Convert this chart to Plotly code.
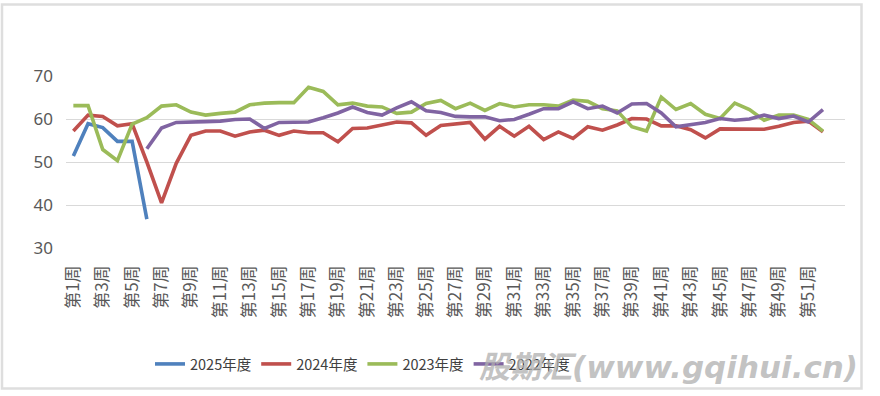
import plotly.graph_objects as go

weeks = ["第%d周" % i for i in range(1, 53)]
tick_weeks = weeks[::2]

v2025 = [51.4, 58.9, 58.0, 54.8, 54.8, 36.7]
v2024 = [57.2, 60.9, 60.6, 58.4, 58.9, 50.0, 40.5, 49.7, 56.2, 57.2,
         57.2, 56.0, 57.0, 57.4, 56.2, 57.2, 56.8, 56.8, 54.7, 57.8,
         57.9, 58.6, 59.3, 59.1, 56.2, 58.5, 58.9, 59.2, 55.3, 58.3,
         56.0, 58.3, 55.2, 57.0, 55.5, 58.2, 57.4, 58.6, 60.1, 60.0,
         58.4, 58.4, 57.5, 55.6, 57.7, 57.6, 57.5, 57.6, 58.3, 59.2,
         59.5, 57.0]
v2023 = [63.1, 63.1, 52.9, 50.3, 58.8, 60.3, 63.0, 63.3, 61.6, 60.9,
         61.3, 61.6, 63.3, 63.7, 63.8, 63.8, 67.4, 66.4, 63.3, 63.7,
         63.0, 62.8, 61.3, 61.6, 63.6, 64.3, 62.4, 63.7, 62.0, 63.6,
         62.8, 63.3, 63.3, 63.0, 64.4, 64.1, 62.4, 61.9, 58.2, 57.2,
         65.1, 62.2, 63.6, 61.1, 60.1, 63.7, 62.2, 59.7, 60.9, 60.9,
         59.9, 57.2]
v2022 = [53.1, 57.9, 59.2, 59.2, 59.4, 59.5, 59.9, 60.0, 57.8, 59.2,
         59.3, 59.3, 60.3, 61.4, 62.8, 61.5, 60.9, 62.6, 64.0, 61.9,
         61.5, 60.6, 60.5, 60.5, 59.6, 59.9, 61.1, 62.4, 62.4, 64.0,
         62.4, 63.0, 61.4, 63.5, 63.6, 61.4, 58.2, 58.8, 59.2, 60.1,
         59.7, 60.0, 60.9, 60.1, 60.7, 59.3, 62.2]

series = [
    ("2025年度", weeks[:len(v2025)], v2025, "#4F81BD"),
    ("2024年度", weeks, v2024, "#C0504D"),
    ("2023年度", weeks, v2023, "#9BBB59"),
    ("2022年度", weeks[52 - len(v2022):], v2022, "#8064A2"),
]

W, H = 880, 396
ML, MR, MT, MB = 66, 35, 76, 148
pw, ph = W - ML - MR, H - MT - MB


def px_x(px):
    return (px - ML) / pw


def px_y(py):
    return (H - MB - py) / ph


fig = go.Figure()
for name, xs, ys, col in series:
    fig.add_trace(go.Scatter(x=xs, y=ys, name=name, mode="lines",
                             line=dict(color=col, width=3.6)))

fig.update_layout(
    width=W, height=H,
    margin=dict(l=ML, r=MR, t=MT, b=MB),
    paper_bgcolor="white", plot_bgcolor="white",
    font=dict(family="Noto Sans CJK SC, Noto Sans", color="#595959"),
    showlegend=True,
    legend=dict(orientation="h", x=px_x(150), y=px_y(364),
                xanchor="left", yanchor="middle",
                font=dict(size=14.5, color="#404040"),
                bgcolor="rgba(0,0,0,0)", itemwidth=30),
    shapes=[dict(type="rect", xref="paper", yref="paper",
                 x0=px_x(2), x1=px_x(861.5), y0=px_y(388.5), y1=px_y(4.5),
                 line=dict(color="#DEDEDE", width=2.5), layer="below")],
    annotations=[dict(text="股期汇(www.gqihui.cn)", xref="paper", yref="paper",
                      x=px_x(668), y=px_y(367), xanchor="center", yanchor="middle",
                      showarrow=False,
                      font=dict(size=31, color="rgba(175,175,175,0.75)",
                                weight="bold", style="italic",
                                family="DejaVu Sans, Noto Sans CJK SC"))],
)

fig.update_xaxes(type="category", categoryorder="array", categoryarray=weeks,
                 range=[-0.5, 52.5], tickmode="array", tickvals=tick_weeks,
                 ticktext=tick_weeks, tickangle=-90, showgrid=False,
                 showline=False, zeroline=False, ticks="",
                 ticklabelstandoff=13,
                 tickfont=dict(size=17, color="#595959",
                               family="Noto Sans CJK SC"))
fig.update_yaxes(range=[30, 70], dtick=10, tick0=30, showgrid=True,
                 gridcolor="#D9D9D9", gridwidth=1, zeroline=False,
                 showline=False, ticks="", ticklabelstandoff=12,
                 tickfont=dict(size=17, color="#595959", family="Noto Sans"))

fig.write_html("out.html", config={"displayModeBar": False},
               post_script="document.body.style.margin='0';")
